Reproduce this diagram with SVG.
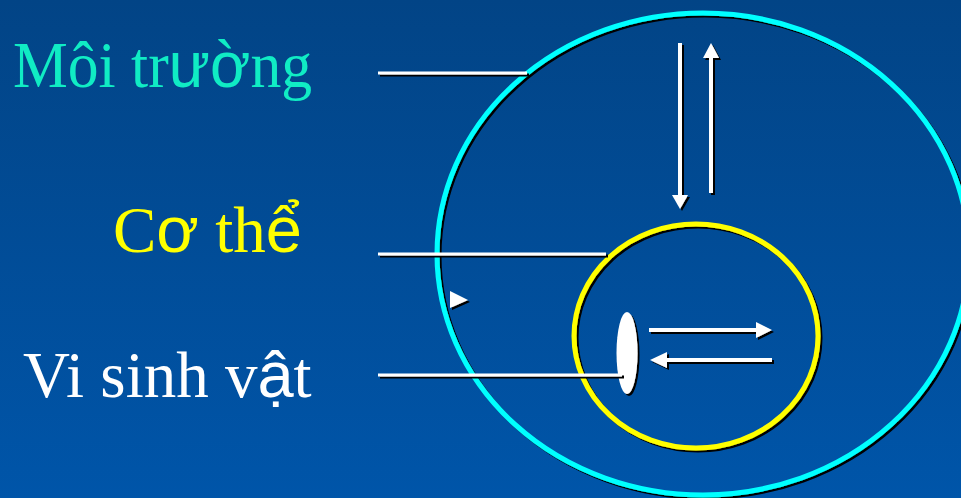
<svg xmlns="http://www.w3.org/2000/svg" width="961" height="498" viewBox="0 0 961 498">
<defs>
<linearGradient id="bg" x1="0" y1="0" x2="0" y2="1">
<stop offset="0" stop-color="#024486"/>
<stop offset="1" stop-color="#0055A9"/>
</linearGradient>
<filter id="sh" x="-10%" y="-10%" width="130%" height="130%">
<feDropShadow dx="2" dy="2" stdDeviation="0" flood-color="#000" flood-opacity="1"/>
</filter>
</defs>
<style>
.lbl{font-family:"Liberation Serif","Times New Roman",serif;font-size:65px}
.sans{font-family:"Liberation Sans",Arial,sans-serif}
.ln{stroke:#fff;stroke-width:3;fill:none}
.ar{stroke:#fff;stroke-width:4;fill:none}
.hd{fill:#fff}
</style>
<rect width="961" height="498" fill="url(#bg)"/>
<g id="moi-truong">
<ellipse cx="703" cy="254" rx="266" ry="241" fill="none" stroke="#00FFFF" stroke-width="5" filter="url(#sh)"/>
<text class="lbl" x="13" y="87" fill="#10ECC4" textLength="299" lengthAdjust="spacingAndGlyphs">Môi tr<tspan class="sans">ườ</tspan>ng</text>
</g>
<g id="co-the">
<ellipse cx="696" cy="336" rx="122" ry="112" fill="none" stroke="#FFFF00" stroke-width="5" filter="url(#sh)"/>
<text class="lbl" x="113" y="252" fill="#FFFF00">C<tspan class="sans">ơ</tspan> th<tspan class="sans">ể</tspan></text>
</g>
<g id="vi-sinh-vat">
<ellipse cx="627" cy="353" rx="10.5" ry="41" fill="#fff" filter="url(#sh)"/>
<text class="lbl" x="23" y="397" fill="#fff">Vi sinh v<tspan class="sans">ậ</tspan>t</text>
</g>
<g id="connectors" filter="url(#sh)">
<line class="ln" x1="378" y1="73" x2="527" y2="73"/>
<line class="ln" x1="378" y1="254" x2="606" y2="254"/>
<line class="ln" x1="378" y1="375" x2="622" y2="375"/>
<line class="ar" x1="680" y1="43" x2="680" y2="197"/>
<polygon class="hd" points="672,195 688,195 680,209"/>
<line class="ar" x1="711" y1="193" x2="711" y2="56"/>
<polygon class="hd" points="703,58 719,58 711,43"/>
<line class="ar" x1="649" y1="330" x2="758" y2="330"/>
<polygon class="hd" points="756,322 756,338 772,330"/>
<line class="ar" x1="772" y1="360" x2="664" y2="360"/>
<polygon class="hd" points="667,352 667,368 650,360"/>
<polygon class="hd" points="450,291 468,300 450,308"/>
</g>
</svg>
